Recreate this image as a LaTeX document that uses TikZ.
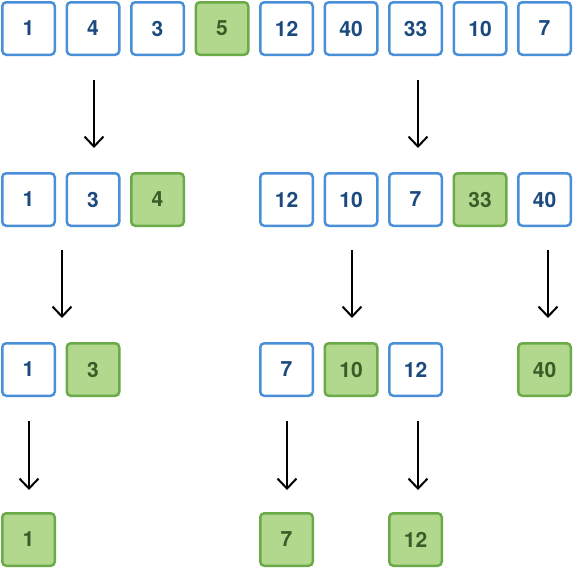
\documentclass[tikz,border=0pt]{standalone}
\usepackage{fontspec}
\setmainfont{TeX Gyre Heros}
\usepackage{tikz}
\usetikzlibrary{arrows.meta}
\usepackage{xcolor}
\definecolor{boxline}{HTML}{4A90D9}
\definecolor{boxtext}{HTML}{1B4A7E}
\definecolor{pivfill}{HTML}{B2D88E}
\definecolor{pivline}{HTML}{6BAA48}
\definecolor{pivtext}{HTML}{3A5C28}
\tikzstyle{elem}=[draw=boxline, line width=2.5pt, rounded corners=4pt, fill=white,
  minimum width=52.5pt, minimum height=52.5pt, inner sep=0pt,
  text=boxtext, font=\fontsize{21}{21}\selectfont\bfseries]
\tikzstyle{pivot}=[elem, draw=pivline, fill=pivfill, text=pivtext]
\tikzstyle{down}=[line width=2pt, -{Straight Barb[length=10pt,width=19pt,line width=2pt]}]

\begin{document}
\begin{tikzpicture}[x=1pt,y=-1pt]
\useasboundingbox (0,0) rectangle (575,568);
% first row
\node[elem] (r1a) at (28.5,28.5) {1};
\node[elem] (r1b) at (93,28.5) {4};
\node[elem] (r1c) at (157.5,28.5) {3};
\node[pivot] (r1d) at (222,28.5) {5};
\node[elem] (r1e) at (286.5,28.5) {12};
\node[elem] (r1f) at (351,28.5) {40};
\node[elem] (r1g) at (415.5,28.5) {33};
\node[elem] (r1h) at (480,28.5) {10};
\node[elem] (r1i) at (544.5,28.5) {7};
% second row
\node[elem] (r2a) at (28.5,199.5) {1};
\node[elem] (r2b) at (93,199.5) {3};
\node[pivot] (r2c) at (157.5,199.5) {4};
\node[elem] (r2e) at (286.5,199.5) {12};
\node[elem] (r2f) at (351,199.5) {10};
\node[elem] (r2g) at (415.5,199.5) {7};
\node[pivot] (r2h) at (480,199.5) {33};
\node[elem] (r2i) at (544.5,199.5) {40};
% third row
\node[elem] (r3a) at (28.5,369.5) {1};
\node[pivot] (r3b) at (93,369.5) {3};
\node[elem] (r3e) at (286.5,369.5) {7};
\node[pivot] (r3f) at (351,369.5) {10};
\node[elem] (r3g) at (415.5,369.5) {12};
\node[pivot] (r3i) at (544.5,369.5) {40};
% fourth row
\node[pivot] (r4a) at (28.5,539.5) {1};
\node[pivot] (r4e) at (286.5,539.5) {7};
\node[pivot] (r4g) at (415.5,539.5) {12};
% arrows
\coordinate (s1) at (94,80);   \coordinate (e1) at (94,148);
\coordinate (s2) at (418,80);  \coordinate (e2) at (418,148);
\coordinate (s3) at (62,250);  \coordinate (e3) at (62,318);
\coordinate (s4) at (352,250); \coordinate (e4) at (352,318);
\coordinate (s5) at (548,250); \coordinate (e5) at (548,318);
\coordinate (s6) at (29,421);  \coordinate (e6) at (29,490);
\coordinate (s7) at (287,421); \coordinate (e7) at (287,490);
\coordinate (s8) at (418,421); \coordinate (e8) at (418,490);
\draw[down] (s1) -- (e1);
\draw[down] (s2) -- (e2);
\draw[down] (s3) -- (e3);
\draw[down] (s4) -- (e4);
\draw[down] (s5) -- (e5);
\draw[down] (s6) -- (e6);
\draw[down] (s7) -- (e7);
\draw[down] (s8) -- (e8);
\end{tikzpicture}
\end{document}
